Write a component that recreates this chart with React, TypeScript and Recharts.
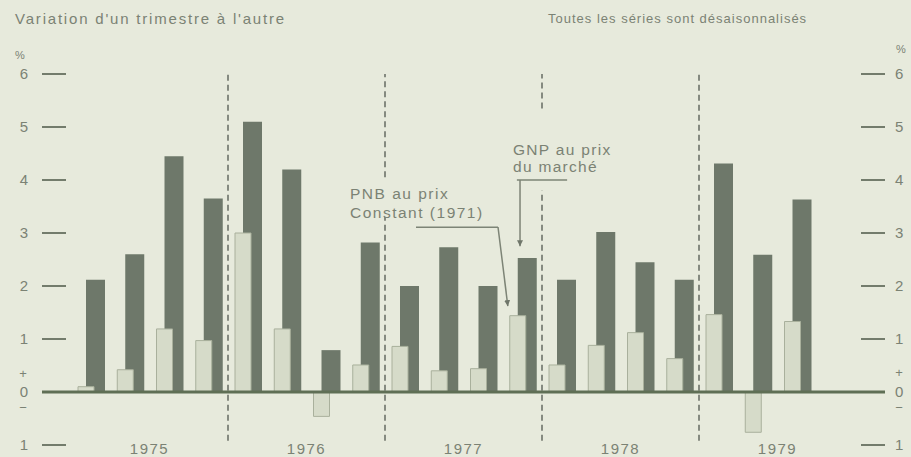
import React from 'react';
import { BarChart, Bar, XAxis, YAxis, ReferenceLine } from 'recharts';

// quarterly change, seasonally adjusted (%)
const quarters = [
  '1975 T1', '1975 T2', '1975 T3', '1975 T4',
  '1976 T1', '1976 T2', '1976 T3', '1976 T4',
  '1977 T1', '1977 T2', '1977 T3', '1977 T4',
  '1978 T1', '1978 T2', '1978 T3', '1978 T4',
  '1979 T1', '1979 T2', '1979 T3', '1979 T4',
];
const pnbConstant = [0.1, 0.42, 1.19, 0.97, 3.0, 1.19, -0.46, 0.51, 0.86, 0.4, 0.44, 1.44, 0.51, 0.88, 1.12, 0.63, 1.46, -0.76, 1.33, null];
const gnpMarket = [2.12, 2.6, 4.45, 3.65, 5.1, 4.2, 0.79, 2.82, 2.0, 2.73, 2.0, 2.53, 2.12, 3.02, 2.45, 2.12, 4.31, 2.59, 3.63, null];
const years = ['1975', '1976', '1977', '1978', '1979'];
const yTicks = [-1, 0, 1, 2, 3, 4, 5, 6];

// dashed year separators (x in quarter units, y in %), with gaps around the labels
const separators = [
  { x: 4, from: -0.92, to: 6 },
  { x: 8, from: -0.92, to: 3.3 },
  { x: 8, from: 4.05, to: 6 },
  { x: 12, from: -0.92, to: 3.8 },
  { x: 12, from: 5.35, to: 6 },
  { x: 16, from: -0.92, to: 6 },
];

// leader lines of the two labels
const leaders = [
  { x1: 8.79, y1: 3.11, x2: 10.88, y2: 3.11, arrow: false },
  { x1: 10.88, y1: 3.11, x2: 11.13, y2: 1.62, arrow: true },
  { x1: 11.36, y1: 4.0, x2: 12.64, y2: 4.0, arrow: false },
  { x1: 11.44, y1: 4.0, x2: 11.44, y2: 2.75, arrow: true },
];

const data = quarters.map((q, i) => ({ q, idx: i, pnb: pnbConstant[i], gnp: gnpMarket[i] }));
const yearTicks = years.map((_, i) => i * 4 + 2);

const BG = '#e7eadc';
const DARK = '#6e786a';
const LIGHT = '#d6dbc9';
const TEXT = '#7b8274';
const FONT = '"Liberation Sans", Arial, sans-serif';

const LeftTick = (props: any) => {
  const { x, y, payload } = props;
  const v = payload.value;
  return (
    <g>
      {v === 0 && <line x1={x + 14} x2={x + 38} y1={y} y2={y} stroke="#5f6f55" strokeWidth={3} />}
      <text x={x} y={y} dy={5} textAnchor="end" fill={TEXT} fontSize={15} fontFamily={FONT}>{Math.abs(v)}</text>
      {v === 0 && (
        <>
          <text x={x - 5} y={y - 19} dy={5} textAnchor="middle" fill={TEXT} fontSize={13} fontFamily={FONT}>+</text>
          <text x={x - 5} y={y + 15} dy={5} textAnchor="middle" fill={TEXT} fontSize={13} fontFamily={FONT}>−</text>
        </>
      )}
    </g>
  );
};

const RightTick = (props: any) => {
  const { x, y, payload } = props;
  const v = payload.value;
  return (
    <g>
      {v === 0 && <line x1={x - 34} x2={x - 10} y1={y} y2={y} stroke="#5f6f55" strokeWidth={3} />}
      <text x={x} y={y} dy={5} textAnchor="start" fill={TEXT} fontSize={15} fontFamily={FONT}>{Math.abs(v)}</text>
      {v === 0 && (
        <>
          <text x={x + 4} y={y - 20} dy={5} textAnchor="middle" fill={TEXT} fontSize={13} fontFamily={FONT}>+</text>
          <text x={x + 4} y={y + 15} dy={5} textAnchor="middle" fill={TEXT} fontSize={13} fontFamily={FONT}>−</text>
        </>
      )}
    </g>
  );
};

const LeaderShape = (arrow: boolean) => (p: any) => (
  <line x1={p.x1} y1={p.y1} x2={p.x2} y2={p.y2} stroke="#7d8476" strokeWidth={1.5}
    markerEnd={arrow ? 'url(#arrowHead)' : undefined} />
);

const label = (left: number, top: number, size: number, text: string, spacing = 0.5) => (
  <div style={{ position: 'absolute', left, top, fontSize: size, color: TEXT, fontFamily: FONT, letterSpacing: spacing, whiteSpace: 'nowrap', lineHeight: 1 }}>
    {text}
  </div>
);

export default function App() {
  return (
    <div style={{ position: 'absolute', left: 0, top: 0, width: 911, height: 457, background: BG, overflow: 'hidden' }}>
      <BarChart width={911} height={457} data={data} margin={{ top: 74, right: 0, bottom: 0, left: 0 }}>
        <defs>
          <marker id="arrowHead" viewBox="0 0 10 10" refX="10" refY="5" markerUnits="userSpaceOnUse" markerWidth="6" markerHeight="8" orient="auto">
            <path d="M0,0 L10,5 L0,10 z" fill="#6f766a" />
          </marker>
        </defs>
        <XAxis xAxisId="n" dataKey="idx" type="number" domain={[0, 20]} padding={{ left: 5, right: 5 }}
          ticks={yearTicks} tickFormatter={(v: number) => years[(v - 2) / 4]}
          axisLine={false} tickLine={false} tickSize={0} tickMargin={0} height={12}
          tick={{ fill: TEXT, fontSize: 15, fontFamily: FONT, letterSpacing: 1.5, dy: -2 }} />
        <XAxis xAxisId="l" dataKey="q" hide height={0} padding={{ left: 0, right: 10 }} />
        <XAxis xAxisId="d" dataKey="q" hide height={0} padding={{ left: 10, right: 0 }} />
        <YAxis yAxisId="left" domain={[-1, 6]} ticks={yTicks} width={66} axisLine={false}
          tickSize={24} tickMargin={14} tickLine={{ stroke: '#737c6c', strokeWidth: 2 }} tick={<LeftTick />} />
        <YAxis yAxisId="right" orientation="right" domain={[-1, 6]} ticks={yTicks} width={50} axisLine={false}
          tickSize={24} tickMargin={10} tickLine={{ stroke: '#737c6c', strokeWidth: 2 }} tick={<RightTick />} />
        {separators.map((s, i) => (
          <ReferenceLine key={'s' + i} xAxisId="n" yAxisId="left" ifOverflow="visible"
            segment={[{ x: s.x, y: s.from }, { x: s.x, y: s.to }]}
            stroke="#656b62" strokeWidth={1.5} strokeDasharray="6 4" />
        ))}
        <Bar xAxisId="d" yAxisId="right" dataKey="gnp" fill={DARK} barSize={19} isAnimationActive={false} />
        <Bar xAxisId="l" yAxisId="left" dataKey="pnb" fill={LIGHT} stroke="#a9b09c" strokeWidth={1} barSize={16} isAnimationActive={false} />
        <ReferenceLine xAxisId="n" yAxisId="left" y={0} stroke="#5f6f55" strokeWidth={3} />
        {leaders.map((l, i) => (
          <ReferenceLine key={'l' + i} xAxisId="n" yAxisId="left" ifOverflow="visible"
            segment={[{ x: l.x1, y: l.y1 }, { x: l.x2, y: l.y2 }]} shape={LeaderShape(l.arrow)} />
        ))}
      </BarChart>
      {label(15, 11, 15, "Variation d'un trimestre à l'autre", 1.8)}
      {label(548, 12, 13, 'Toutes les séries sont désaisonnalisés', 1)}
      {label(15, 50, 11, '%', 0)}
      {label(896, 44, 11, '%', 0)}
      <div style={{ position: 'absolute', left: 350, top: 184, fontSize: 15.5, color: TEXT, fontFamily: FONT, lineHeight: '19px', letterSpacing: 1.5, whiteSpace: 'nowrap' }}>
        PNB au prix<br />Constant (1971)
      </div>
      <div style={{ position: 'absolute', left: 513, top: 141, fontSize: 15.5, color: TEXT, fontFamily: FONT, lineHeight: '17px', letterSpacing: 1.3, whiteSpace: 'nowrap' }}>
        GNP au prix<br />du marché
      </div>
    </div>
  );
}
